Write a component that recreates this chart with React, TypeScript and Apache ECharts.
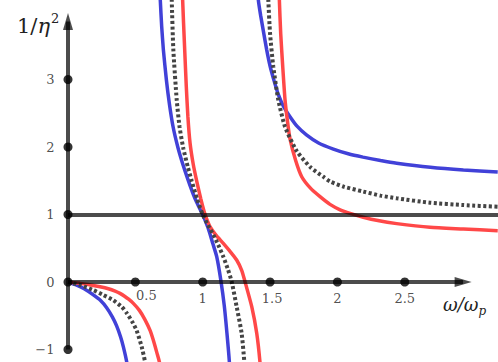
import React, { useEffect, useRef } from "react";
import * as echarts from "echarts";

// Tick positions and labels
const xTicks = [0.5, 1, 1.5, 2, 2.5];
const xTickLabels = ["0.5", "1", "1.5", "2", "2.5"];
const yTicks = [-1, 0, 1, 2, 3];
const yTickLabels = ["\u22121", "0", "1", "2", "3"];

// Blue curve branches [ω/ωp, 1/η²]
const blueLow = [[0, 0], [0.064, -0.045], [0.12, -0.1], [0.188, -0.19], [0.24, -0.27], [0.287, -0.38], [0.33, -0.52], [0.361, -0.65], [0.39, -0.81], [0.411, -0.96], [0.436, -1.185], [0.455, -1.45]];
const blueMid = [[0.676, 4.6], [0.685, 4.18], [0.695, 3.8], [0.708, 3.44], [0.73, 3.0], [0.752, 2.65], [0.78, 2.3], [0.815, 2.0], [0.85, 1.76], [0.89, 1.52], [0.93, 1.3], [0.965, 1.14], [1.0, 1.0], [1.04, 0.8], [1.075, 0.57], [1.104, 0.375], [1.135, 0.02], [1.16, -0.35], [1.18, -0.76], [1.198, -1.185], [1.205, -1.5]];
const blueHigh = [[1.405, 4.6], [1.413, 4.18], [1.43, 3.95], [1.45, 3.72], [1.475, 3.44], [1.5, 3.2], [1.53, 2.98], [1.561, 2.78], [1.6, 2.6], [1.648, 2.45], [1.7, 2.31], [1.77, 2.18], [1.86, 2.06], [1.97, 1.97], [2.08, 1.9], [2.19, 1.85], [2.32, 1.8], [2.44, 1.76], [2.69, 1.7], [2.935, 1.66], [3.19, 1.63]];

// Red curve branches
const redLow = [[0, 0], [0.089, -0.02], [0.16, -0.04], [0.238, -0.07], [0.3, -0.1], [0.35, -0.135], [0.386, -0.168], [0.42, -0.21], [0.45, -0.255], [0.485, -0.316], [0.53, -0.42], [0.572, -0.56], [0.61, -0.72], [0.633, -0.86], [0.66, -1.05], [0.68, -1.2], [0.69, -1.45]];
const redMid = [[0.848, 4.6], [0.851, 4.18], [0.865, 3.5], [0.878, 2.9], [0.89, 2.45], [0.906, 2.06], [0.93, 1.74], [0.955, 1.5], [0.985, 1.24], [1.01, 1.05], [1.03, 0.93], [1.054, 0.82], [1.1, 0.69], [1.153, 0.573], [1.2, 0.46], [1.252, 0.326], [1.29, 0.17], [1.314, 0.005], [1.364, -0.366], [1.401, -0.76], [1.425, -1.185], [1.435, -1.5]];
const redHigh = [[1.565, 4.6], [1.569, 4.18], [1.579, 3.68], [1.594, 3.19], [1.611, 2.7], [1.628, 2.4], [1.648, 2.12], [1.69, 1.8], [1.735, 1.56], [1.8, 1.39], [1.871, 1.264], [1.945, 1.15], [2.02, 1.07], [2.094, 1.017], [2.192, 0.96], [2.3, 0.91], [2.44, 0.865], [2.687, 0.81], [2.935, 0.785], [3.19, 0.76]];

// Dotted curve branches
const dotLow = [[0, 0], [0.1, -0.05], [0.188, -0.12], [0.26, -0.19], [0.336, -0.27], [0.4, -0.37], [0.436, -0.46], [0.48, -0.6], [0.51, -0.72], [0.547, -0.96], [0.572, -1.185], [0.59, -1.45]];
const dotMid = [[0.765, 4.6], [0.77, 4.18], [0.782, 3.44], [0.807, 2.7], [0.828, 2.3], [0.856, 1.98], [0.89, 1.7], [0.918, 1.5], [0.96, 1.22], [1.0, 1.0], [1.04, 0.84], [1.079, 0.7], [1.115, 0.55], [1.153, 0.375], [1.185, 0.2], [1.215, 0.005], [1.252, -0.366], [1.289, -0.76], [1.309, -1.185], [1.32, -1.5]];
const dotHigh = [[1.482, 4.6], [1.487, 4.18], [1.5, 3.68], [1.524, 3.19], [1.561, 2.7], [1.611, 2.3], [1.698, 1.94], [1.8, 1.7], [1.895, 1.56], [1.945, 1.49], [2.05, 1.41], [2.192, 1.34], [2.32, 1.28], [2.44, 1.24], [2.687, 1.175], [2.935, 1.14], [3.19, 1.115]];

const BLUE = "#4141d8";
const RED = "#ff4848";
const DOT = "#444444";
const AXIS = "rgba(0,0,0,0.7)";
const FONT = "DejaVu Serif";

export default function App() {
  const ref = useRef<HTMLDivElement>(null);
  useEffect(() => {
    if (!ref.current) return;
    const chart = echarts.init(ref.current, null, { renderer: "svg" });
    const curve = (data: number[][], color: string, dotted = false) => ({
      type: "line",
      data,
      showSymbol: false,
      symbol: "none",
      smooth: 0.2,
      clip: true,
      z: 2,
      lineStyle: dotted
        ? { color, width: 4, type: [3, 2.5], cap: "butt" }
        : { color, width: 3.5 },
      silent: true,
    });
    const xLabelData = xTicks.map((v, i) => ({
      value: [v, 0],
      label: {
        show: true,
        position: "bottom",
        distance: 5,
        formatter: xTickLabels[i],
        offset: v === 0.5 ? [11, -3] : v === 1.5 ? [2, 0] : [0, 0],
      },
    }));
    const yLabelData = yTicks.map((v, i) => ({
      value: [0, v],
      label: { show: true, position: "left", distance: 9, formatter: yTickLabels[i] },
    }));
    chart.setOption({
      animation: false,
      textStyle: { fontFamily: FONT },
      grid: { left: 68, right: 0, top: 0, bottom: 0 },
      xAxis: { type: "value", min: 0, max: 3.192, show: false },
      yAxis: { type: "value", min: -1.185, max: 4.178, show: false },
      series: [
        curve(blueLow, BLUE),
        curve(blueMid, BLUE),
        curve(blueHigh, BLUE),
        curve(redLow, RED),
        curve(redMid, RED),
        curve(redHigh, RED),
        curve(dotLow, DOT, true),
        curve(dotMid, DOT, true),
        curve(dotHigh, DOT, true),
        {
          type: "line",
          data: [],
          z: 3,
          silent: true,
          markLine: {
            silent: true,
            animation: false,
            label: { show: false },
            lineStyle: { color: AXIS, width: 4, type: "solid" },
            symbol: ["none", "triangle"],
            symbolSize: [10, 17],
            data: [
              [{ coord: [0, -1] }, { coord: [0, 3.86] }],
              [{ coord: [0, 0] }, { coord: [2.933, 0] }],
              [{ coord: [0, 1], symbol: "none" }, { coord: [3.192, 1], symbol: "none" }],
            ],
          },
        },
        {
          type: "scatter",
          z: 4,
          silent: true,
          symbolSize: 9,
          itemStyle: { color: "#000" },
          label: { color: "#222", fontFamily: FONT, fontSize: 13 },
          data: [...xLabelData, ...yLabelData],
        },
      ],
      graphic: [
        {
          type: "text",
          left: 17,
          top: 12,
          style: {
            text: "{n|1/}{i|\u03B7}{s|2}",
            fontFamily: FONT,
            fontSize: 21,
            rich: {
              n: { fontFamily: FONT, fontSize: 21, fill: "#222", verticalAlign: "bottom" },
              i: { fontFamily: FONT, fontSize: 21, fontStyle: "italic", fill: "#222", verticalAlign: "bottom" },
              s: { fontFamily: FONT, fontSize: 13, fill: "#222", padding: [0, 0, 11, 1], verticalAlign: "bottom" },
            },
          },
        },
        {
          type: "text",
          left: 443,
          top: 295,
          style: {
            text: "{i|\u03C9/\u03C9}{s|p}",
            fontFamily: FONT,
            fontSize: 18,
            rich: {
              i: { fontFamily: FONT, fontSize: 18, fontStyle: "italic", fill: "#222", verticalAlign: "top" },
              s: { fontFamily: FONT, fontSize: 12, fontStyle: "italic", fill: "#222", padding: [10, 0, 0, 0], verticalAlign: "top" },
            },
          },
        },
      ],
    });
    return () => chart.dispose();
  }, []);
  return (
    <div
      ref={ref}
      style={{ position: "fixed", left: 0, top: 0, width: 498, height: 362, background: "#fff" }}
    />
  );
}
